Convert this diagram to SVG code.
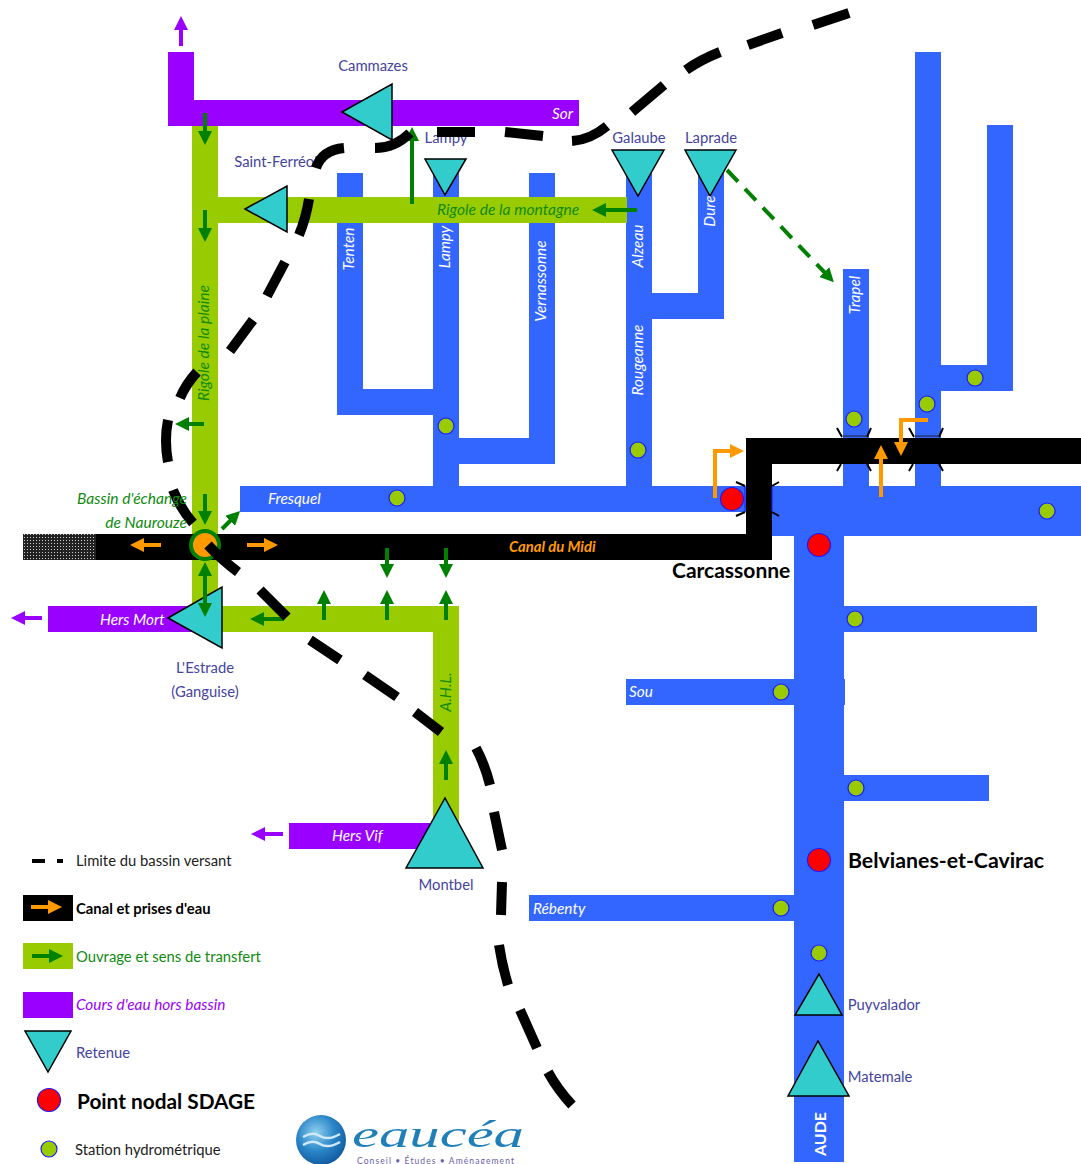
<svg xmlns="http://www.w3.org/2000/svg" width="1081" height="1164" viewBox="0 0 1081 1164">
<style>
text{font-family:Lato,"Open Sans","Liberation Sans",sans-serif;font-size:14.8px}
.b{fill:#3366ff}.g{fill:#99cc00}.p{fill:#9900ff}.k{fill:#000}
.w{fill:#fff;font-style:italic;font-size:15.4px}
.gt{fill:#108a10;font-style:italic;font-size:15.6px}
.n{fill:#44449f;text-anchor:middle}
.r{fill:#33cccc;stroke:#000;stroke-width:1.5}
.s{fill:#99cc00;stroke:#1a1aff;stroke-width:1.2}
.pn{fill:#ff0000;stroke:#1a1aff;stroke-width:1.2}
.ag{stroke:#008000;stroke-width:4;fill:none;marker-end:url(#mg)}
.ao{stroke:#ff9900;stroke-width:4;fill:none;marker-end:url(#mo)}
.ap{stroke:#9900ff;stroke-width:4;fill:none;marker-end:url(#mp)}
.d{stroke:#000;stroke-width:10;fill:none}
.t{stroke:#000;stroke-width:2;fill:none}
</style>
<defs>
<marker id="mg" viewBox="0 0 3.5 3.5" refX="1" refY="1.75" markerWidth="3.5" markerHeight="3.5" orient="auto-start-reverse"><path d="M0 0L3.5 1.75L0 3.5z" fill="#008000"/></marker>
<marker id="mo" viewBox="0 0 3.5 3.5" refX="1" refY="1.75" markerWidth="3.5" markerHeight="3.5" orient="auto"><path d="M0 0L3.5 1.75L0 3.5z" fill="#ff9900"/></marker>
<marker id="mp" viewBox="0 0 3.5 3.5" refX="1" refY="1.75" markerWidth="3.5" markerHeight="3.5" orient="auto"><path d="M0 0L3.5 1.75L0 3.5z" fill="#9900ff"/></marker>
<pattern id="dith" width="3" height="3" patternUnits="userSpaceOnUse"><rect width="3" height="3" fill="#222"/><rect width="1" height="1" fill="#ccc"/></pattern>
<radialGradient id="lg" cx="0.4" cy="0.35" r="0.75"><stop offset="0" stop-color="#8fd0f0"/><stop offset="0.5" stop-color="#2a86c8"/><stop offset="1" stop-color="#0b4f96"/></radialGradient>
</defs>

<g id="rivers-blue">
<rect class="b" x="337" y="173" width="26" height="242"/>
<rect class="b" x="337" y="389" width="122" height="26"/>
<rect class="b" x="433" y="173" width="26" height="315"/>
<rect class="b" x="529" y="173" width="26" height="291"/>
<rect class="b" x="459" y="438" width="96" height="26"/>
<rect class="b" x="626" y="173" width="26" height="315"/>
<rect class="b" x="698" y="173" width="26" height="146"/>
<rect class="b" x="652" y="293" width="72" height="26"/>
<rect class="b" x="843" y="269" width="26" height="220"/>
<rect class="b" x="915" y="52" width="26" height="436"/>
<rect class="b" x="941" y="365" width="72" height="26"/>
<rect class="b" x="987" y="125" width="26" height="266"/>
<rect class="b" x="240" y="486" width="510" height="26"/>
<rect class="b" x="770" y="486" width="311" height="50"/>
<rect class="b" x="794" y="510" width="50" height="652"/>
<rect class="b" x="844" y="606" width="193" height="26"/>
<rect class="b" x="626" y="679" width="219" height="26"/>
<rect class="b" x="795" y="775" width="194" height="26"/>
<rect class="b" x="529" y="895" width="266" height="26"/>
</g>
<g id="rivers-purple">
<rect class="p" x="168" y="52" width="26" height="74"/>
<rect class="p" x="168" y="100" width="411" height="26"/>
<rect class="p" x="48" y="606" width="150" height="26"/>
<rect class="p" x="289" y="823" width="150" height="26"/>
</g>
<g id="works-green">
<rect class="g" x="192" y="126" width="26" height="480"/>
<rect class="g" x="192" y="197" width="435" height="26"/>
<rect class="g" x="192" y="580" width="26" height="40"/>
<rect class="g" x="218" y="606" width="241" height="26"/>
<rect class="g" x="433" y="606" width="26" height="224"/>
</g>
<g id="canal">
<rect x="23" y="534" width="73" height="26" fill="url(#dith)"/>
<rect class="k" x="96" y="534" width="676" height="26"/>
<rect class="k" x="746" y="438" width="26" height="122"/>
<rect class="k" x="746" y="438" width="335" height="26"/>
</g>
<g id="bridges">
<path class="t" d="M736 482L745 486M736 516L745 512M779 482L772 486M779 516L772 512M837 428L842 437M871 428L867 437M837 471L841 464M871 471L867 464M909 428L914 437M943 428L939 437M909 471L913 464M943 471L939 464"/>
<path d="M843 436H869M915 436H941" stroke="#223" stroke-width="1" fill="none"/>
<path d="M745 487V511M772 487V511" stroke="#1a1aff" stroke-width="1" fill="none"/>
</g>

<g id="Naurouze"><circle cx="205" cy="545" r="14" fill="#ff9900" stroke="#008000" stroke-width="4"/></g>
<g id="Cammazes"><path class="r" d="M342 112L392 84V140z"/><text class="n" x="373" y="71">Cammazes</text></g>
<g id="Saint-Ferreol"><path class="r" d="M245 209L287 186V232z"/><text class="n" x="276" y="167">Saint-Ferréol</text></g>
<g id="Lampy"><path class="r" d="M425 159H466L445 195z"/><text class="n" x="446" y="143">Lampy</text></g>
<g id="Galaube"><path class="r" d="M612 150H664L638 196z"/><text class="n" x="639" y="143">Galaube</text></g>
<g id="Laprade"><path class="r" d="M685 150H736L710 196z"/><text class="n" x="711" y="143">Laprade</text></g>
<g id="Estrade"><path class="r" d="M168 618L222 587V648z"/><text class="n" x="205" y="673">L'Estrade</text><text class="n" x="205" y="697">(Ganguise)</text></g>
<g id="Montbel"><path class="r" d="M406 868H483L445 798z"/><text class="n" x="446" y="890">Montbel</text></g>
<g id="Puyvalador"><path class="r" d="M795 1015H842L819 974z"/><text class="n" x="884" y="1010">Puyvalador</text></g>
<g id="Matemale"><path class="r" d="M788 1096H849L818 1041z"/><text class="n" x="880" y="1082">Matemale</text></g>

<g id="connectors">
<path class="ag" d="M205 113V135"/>
<path class="ag" d="M205 210V232"/>
<path class="ag" d="M204 424H185"/>
<path class="ag" d="M205 494V515"/>
<path class="ag" d="M222 529L233 518"/>
<path class="ag" d="M205 572V607" style="marker-start:url(#mg)"/>
<path class="ag" d="M284 619H260"/>
<path class="ag" d="M324 620V600"/>
<path class="ag" d="M387 620V600"/>
<path class="ag" d="M446 620V600"/>
<path class="ag" d="M387 548V568"/>
<path class="ag" d="M446 548V568"/>
<path class="ag" d="M446 780V760"/>
<path class="ag" d="M637 210H602"/>
<path class="ag" d="M412 204V137"/>
<path class="ag" d="M727 170L827 275" stroke-dasharray="16 10"/>
<path class="ap" d="M181 46V26"/>
<path class="ap" d="M42 618H21"/>
<path class="ap" d="M283 834H261"/>
<path class="ao" d="M161 545H140"/>
<path class="ao" d="M247 545H268"/>
<path class="ao" d="M715 498V451H734"/>
<path class="ao" d="M881 497V455"/>
<path class="ao" d="M928 420H901V446"/>
</g>

<g id="stations">
<circle class="s" cx="397" cy="498" r="8"/>
<circle class="s" cx="446" cy="426" r="8"/>
<circle class="s" cx="638" cy="450" r="8"/>
<circle class="s" cx="854" cy="419" r="8"/>
<circle class="s" cx="927" cy="404" r="8"/>
<circle class="s" cx="975" cy="378" r="8"/>
<circle class="s" cx="1047" cy="511" r="8"/>
<circle class="s" cx="855" cy="619" r="8"/>
<circle class="s" cx="781" cy="692" r="8"/>
<circle class="s" cx="856" cy="788" r="8"/>
<circle class="s" cx="781" cy="908" r="8"/>
<circle class="s" cx="819" cy="953" r="8"/>
<circle class="pn" cx="732" cy="499" r="11.5"/>
<circle class="pn" cx="819" cy="545" r="11.5"/>
<circle class="pn" cx="819" cy="860" r="11.5"/>
</g>

<g id="limit">
<path class="d" d="M849 13L813 25M782 33L748 45M720 52Q700 60 686 70M664 85L632 112M607 126Q590 140 572 141M543 136L505 132M475 132H437M410 133Q395 148 375 148M344 148Q322 150 316 168M309 199Q306 218 299 235M285 262L267 296M253 320L230 351M197 372Q186 384 180 398M168 420Q164 440 168 462M173 490Q180 508 193 523M208 545Q222 560 238 572M260 590L287 617M310 640L340 660M365 675L397 697M415 712L441 732M476 748Q485 765 490 785M494 812L502 850M502 882L501 915M499 945Q502 965 508 985M520 1010L537 1048M548 1072Q558 1090 572 1105"/>
</g>

<g id="labels">
<text class="w" x="552" y="119">Sor</text>
<text class="gt" x="437" y="215">Rigole de la montagne</text>
<text class="gt" transform="translate(209,343) rotate(-90)" text-anchor="middle">Rigole de la plaine</text>
<text class="gt" x="187" y="504" text-anchor="end">Bassin d'échange</text>
<text class="gt" x="187" y="528" text-anchor="end">de Naurouze</text>
<text class="gt" transform="translate(451,692) rotate(-90)" text-anchor="middle">A.H.L.</text>
<text class="w" transform="translate(354,249) rotate(-90)" text-anchor="middle">Tenten</text>
<text class="w" transform="translate(450,247) rotate(-90)" text-anchor="middle">Lampy</text>
<text class="w" transform="translate(546,281) rotate(-90)" text-anchor="middle">Vernassonne</text>
<text class="w" transform="translate(643,246) rotate(-90)" text-anchor="middle">Alzeau</text>
<text class="w" transform="translate(643,360) rotate(-90)" text-anchor="middle">Rougeanne</text>
<text class="w" transform="translate(715,211) rotate(-90)" text-anchor="middle">Dure</text>
<text class="w" transform="translate(860,295) rotate(-90)" text-anchor="middle">Trapel</text>
<text transform="translate(826,1134) rotate(-90)" text-anchor="middle" fill="#fff" font-weight="bold" style="font-size:16px">AUDE</text>
<text class="w" x="268" y="504">Fresquel</text>
<text class="w" x="100" y="625">Hers Mort</text>
<text class="w" x="332" y="841">Hers Vif</text>
<text class="w" x="629" y="697">Sou</text>
<text class="w" x="533" y="914">Rébenty</text>
<text x="509" y="552" fill="#ff9900" font-weight="bold" font-style="italic" style="font-size:14.8px">Canal du Midi</text>
<text x="672" y="578" font-weight="bold" style="font-size:21px">Carcassonne</text>
<text x="848" y="868" font-weight="bold" style="font-size:21.3px">Belvianes-et-Cavirac</text>
</g>

<g id="legend">
<path class="d" style="stroke-width:4" d="M32 861H45M57 861H63"/>
<text x="76" y="866" fill="#222">Limite du bassin versant</text>
<rect class="k" x="23" y="895" width="50" height="26"/>
<path class="ao" d="M31 907H52"/>
<text x="76" y="914" font-weight="bold">Canal et prises d'eau</text>
<rect class="g" x="23" y="943" width="50" height="26"/>
<path class="ag" d="M32 956H53"/>
<text x="76" y="962" fill="#108a10">Ouvrage et sens de transfert</text>
<rect class="p" x="23" y="992" width="50" height="26"/>
<text x="76" y="1010" fill="#9900ff" font-style="italic" style="font-size:15.4px">Cours d'eau hors bassin</text>
<path class="r" d="M25 1031H71L48 1072z"/>
<text x="76" y="1058" fill="#44449f">Retenue</text>
<circle class="pn" cx="49" cy="1100" r="11.5"/>
<text x="77" y="1109" font-weight="bold" style="font-size:20.8px">Point nodal SDAGE</text>
<circle class="s" cx="49" cy="1149" r="8"/>
<text x="75" y="1155" fill="#222">Station hydrométrique</text>
</g>

<g id="logo">
<circle cx="321" cy="1140" r="25" fill="url(#lg)"/>
<path d="M303 1137Q312 1131 320 1136T340 1134M303 1145Q312 1139 320 1144T340 1142" stroke="#cfeafa" stroke-width="2.5" fill="none"/>
<text x="352" y="1147" fill="#1f7fb8" font-style="italic" style="font-family:'Liberation Serif',serif;font-size:38px" textLength="172" lengthAdjust="spacingAndGlyphs">eaucéa</text>
<text x="357" y="1163.5" fill="#6b5ea8" style="font-size:8.5px" textLength="157">Conseil • Études • Aménagement</text>
</g>
</svg>
